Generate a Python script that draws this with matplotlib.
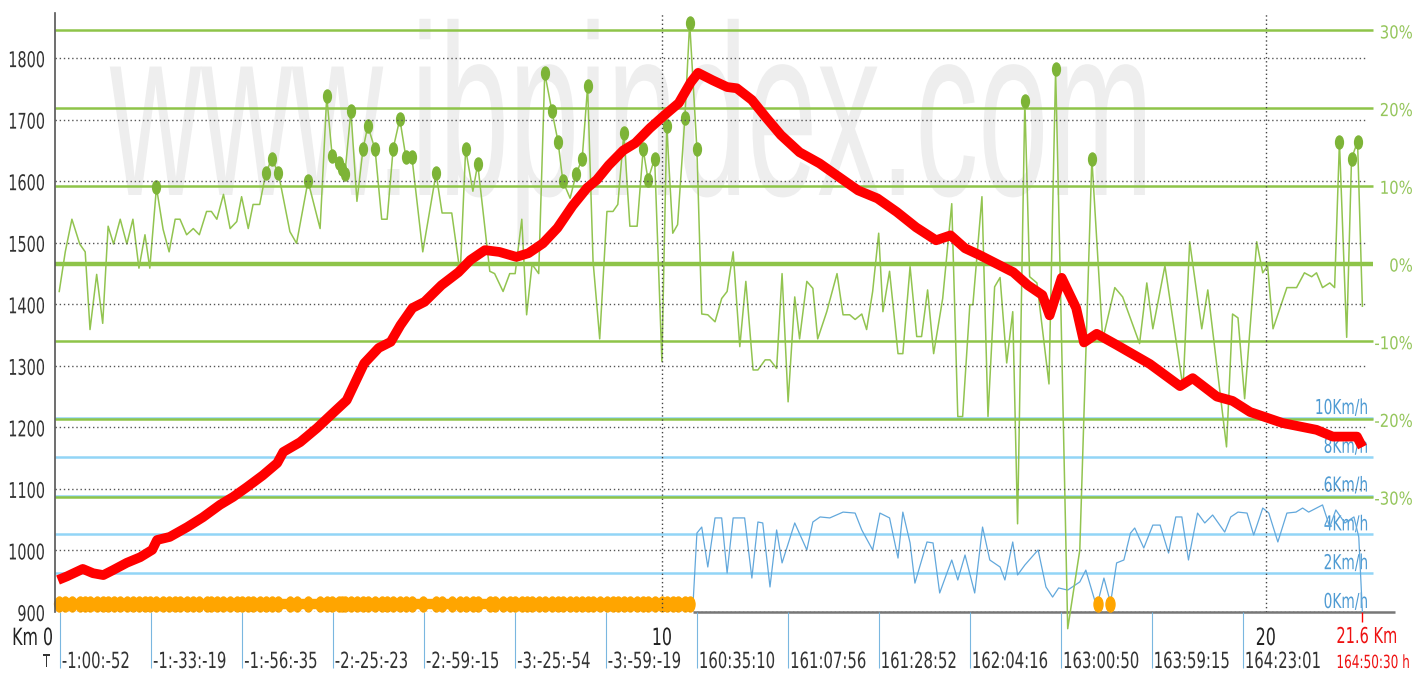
import numpy as np
import matplotlib
matplotlib.use('Agg')
import matplotlib.pyplot as plt
from matplotlib import patheffects
from matplotlib.path import Path
from matplotlib.transforms import Affine2D

# altitude profile: distance (km) / altitude (m)
alt_km = [0.0, 0.15, 0.41, 0.58, 0.75, 0.91, 1.14, 1.36, 1.56, 1.64,
          1.85, 2.14, 2.40, 2.68, 2.90, 3.13, 3.39, 3.63, 3.73, 4.01,
          4.29, 4.55, 4.78, 5.07, 5.31, 5.51, 5.67, 5.87, 6.07, 6.35,
          6.63, 6.83, 7.07, 7.31, 7.59, 7.79, 8.03, 8.27, 8.52, 8.76,
          8.92, 9.12, 9.36, 9.56, 9.80, 10.04, 10.28, 10.48, 10.60, 10.84,
          11.08, 11.24, 11.49, 11.72, 11.97, 12.28, 12.61, 12.93, 13.25, 13.57,
          13.89, 14.21, 14.54, 14.78, 15.02, 15.26, 15.58, 15.82, 16.06, 16.30,
          16.42, 16.62, 16.86, 16.99, 17.20, 17.53, 18.08, 18.58, 18.79, 19.19,
          19.45, 19.74, 20.28, 20.84, 21.11, 21.51, 21.60]
alt_m = [952, 958, 970, 963, 960, 968, 980, 989, 1001, 1017,
         1022, 1038, 1054, 1074, 1087, 1103, 1122, 1142, 1160, 1176,
         1199, 1223, 1244, 1304, 1329, 1339, 1366, 1394, 1404, 1431,
         1452, 1472, 1488, 1485, 1477, 1483, 1499, 1524, 1560, 1589,
         1602, 1626, 1650, 1662, 1686, 1707, 1727, 1761, 1776, 1764,
         1753, 1751, 1732, 1704, 1675, 1647, 1629, 1607, 1585, 1572,
         1550, 1525, 1504, 1512, 1491, 1480, 1464, 1452, 1431, 1415,
         1382, 1443, 1394, 1338, 1352, 1334, 1303, 1267, 1280, 1250,
         1243, 1225, 1207, 1196, 1185, 1185, 1168]

# slope (%)
slope_km = [0.02, 0.12, 0.23, 0.36, 0.45, 0.53, 0.64, 0.74, 0.83, 0.92,
            1.03, 1.14, 1.24, 1.34, 1.44, 1.52, 1.63, 1.74, 1.84, 1.94,
            2.02, 2.13, 2.24, 2.34, 2.46, 2.54, 2.63, 2.74, 2.85, 2.96,
            3.04, 3.15, 3.23, 3.34, 3.44, 3.54, 3.65, 3.84, 3.95, 4.14,
            4.34, 4.45, 4.54, 4.65, 4.70, 4.75, 4.85, 4.95, 5.05, 5.13,
            5.25, 5.36, 5.45, 5.55, 5.66, 5.76, 5.86, 6.04, 6.26, 6.36,
            6.52, 6.66, 6.75, 6.87, 6.95, 7.15, 7.23, 7.37, 7.48, 7.57,
            7.68, 7.76, 7.85, 7.96, 8.06, 8.18, 8.28, 8.36, 8.48, 8.58,
            8.68, 8.77, 8.86, 8.97, 9.09, 9.19, 9.27, 9.37, 9.47, 9.59,
            9.69, 9.77, 9.88, 10.00, 10.08, 10.18, 10.26, 10.38, 10.46, 10.58,
            10.66, 10.76, 10.88, 10.99, 11.08, 11.18, 11.29, 11.39, 11.51, 11.59,
            11.71, 11.79, 11.90, 11.99, 12.09, 12.20, 12.28, 12.40, 12.50, 12.58,
            12.73, 12.90, 13.00, 13.11, 13.20, 13.31, 13.39, 13.49, 13.59, 13.66,
            13.77, 13.91, 13.99, 14.11, 14.22, 14.30, 14.40, 14.50, 14.65, 14.72,
            14.80, 14.90, 14.98, 15.10, 15.15, 15.30, 15.40, 15.51, 15.60, 15.71,
            15.81, 15.89, 16.01, 16.09, 16.21, 16.41, 16.52, 16.59, 16.72, 16.92,
            17.12, 17.30, 17.50, 17.63, 17.91, 18.03, 18.13, 18.33, 18.63, 18.74,
            18.94, 19.04, 19.35, 19.45, 19.54, 19.65, 19.85, 19.95, 20.03, 20.12,
            20.35, 20.51, 20.64, 20.76, 20.84, 20.94, 21.06, 21.14, 21.22, 21.34,
            21.42, 21.52, 21.60]
slope_pct = [-3.6, 1.5, 5.7, 2.5, 1.5, -8.5, -1.4, -7.7, 4.8, 2.5,
             5.7, 2.5, 5.7, -0.6, 3.7, -0.6, 9.8, 4.4, 1.5, 5.7,
             5.7, 3.7, 4.5, 3.7, 6.7, 6.7, 5.7, 8.9, 4.5, 5.4,
             8.6, 4.5, 7.6, 7.6, 11.6, 13.5, 11.6, 4.1, 2.6, 10.6,
             4.5, 21.5, 13.8, 12.9, 12.1, 11.5, 19.6, 8.0, 14.7, 17.7,
             14.7, 5.7, 5.7, 14.8, 18.6, 13.7, 13.7, 1.5, 11.6, 6.5,
             6.5, -1.3, 14.7, 9.3, 12.8, -1.0, -1.3, -3.6, -1.3, -1.3,
             5.7, -6.6, -0.1, -1.3, 24.5, 19.6, 15.7, 10.6, 8.4, 11.5,
             13.5, 22.8, 0.3, -9.7, 6.7, 6.7, 7.6, 16.8, 4.8, 4.8,
             14.7, 10.8, 13.5, -12.6, 17.7, 3.9, 5.0, 18.7, 31.0, 14.7,
             -6.5, -6.6, -7.5, -4.5, -3.6, 1.5, -10.7, -2.3, -13.7, -13.7,
             -12.4, -12.4, -13.5, -1.3, -17.8, -4.3, -9.7, -2.3, -3.2, -9.7,
             -6.2, -1.3, -6.6, -6.6, -7.2, -6.5, -8.5, -3.6, 3.9, -6.2,
             -1.0, -11.6, -11.6, -0.4, -9.4, -9.4, -3.4, -11.6, -4.5, 1.2,
             7.7, -19.7, -19.7, -5.3, -5.3, 8.6, -19.7, -3.0, -1.8, -12.8,
             -6.2, -33.5, 20.9, -1.7, -2.5, -15.5, 25.0, 0.6, -47.0, -36.9,
             13.5, -9.8, -3.1, -4.3, -10.3, -2.5, -8.4, -0.3, -16.0, 2.8,
             -8.4, -3.4, -23.6, -6.5, -7.0, -17.4, 2.8, -1.2, -0.3, -8.4,
             -3.1, -3.1, -1.2, -1.7, -1.2, -3.1, -2.5, -3.1, 15.7, -9.5,
             13.5, 15.7, -5.5]

# speed (km/h)
speed_km = [10.51, 10.58, 10.66, 10.76, 10.88, 10.99, 11.08, 11.18, 11.37, 11.49,
            11.59, 11.67, 11.79, 11.90, 11.99, 12.20, 12.40, 12.50, 12.62, 12.78,
            13.00, 13.20, 13.31, 13.49, 13.61, 13.77, 13.91, 13.99, 14.11, 14.19,
            14.39, 14.49, 14.60, 14.72, 14.80, 14.90, 15.02, 15.18, 15.31, 15.43,
            15.60, 15.68, 15.81, 15.89, 16.01, 16.23, 16.36, 16.47, 16.57, 16.72,
            16.92, 17.02, 17.20, 17.32, 17.43, 17.53, 17.65, 17.76, 17.83, 17.98,
            18.13, 18.25, 18.39, 18.51, 18.61, 18.72, 18.87, 18.99, 19.12, 19.32,
            19.42, 19.54, 19.69, 19.80, 19.95, 20.05, 20.20, 20.35, 20.50, 20.61,
            20.71, 20.94, 21.06, 21.16, 21.31, 21.46, 21.54, 21.60]
speed_kmh = [0.1, 4.07, 4.38, 2.32, 4.85, 4.85, 2.01, 4.85, 4.85, 1.75,
             4.64, 4.59, 1.29, 4.23, 2.53, 4.59, 3.20, 4.64, 4.90, 4.85,
             5.15, 5.10, 4.23, 3.20, 5.10, 4.85, 2.78, 5.15, 3.56, 1.49,
             3.61, 3.56, 0.98, 2.01, 2.68, 1.65, 2.94, 0.98, 4.38, 2.68,
             2.32, 1.65, 3.61, 1.91, 2.42, 3.20, 1.29, 0.77, 1.24, 1.13,
             1.55, 2.16, 0.26, 1.75, 0.46, 2.53, 2.68, 4.07, 4.33, 3.30,
             4.48, 4.48, 3.04, 4.90, 4.90, 2.68, 5.10, 4.59, 5.00, 4.12,
             4.90, 5.15, 5.10, 3.97, 5.36, 5.10, 3.61, 5.10, 5.15, 5.36,
             5.15, 5.52, 4.38, 5.26, 4.59, 4.90, 3.87, 0.0]

# stops (speed 0): whole first part of the track + two later ones
stop_extra_km = [17.22, 17.42]

time_km = [0.03, 1.54, 3.05, 4.55, 6.06, 7.57, 9.07, 10.58, 12.09, 13.59,
           15.10, 16.61, 18.11, 19.62]
time_labels = ['-1:00:-52', '-1:-33:-19', '-1:-56:-35', '-2:-25:-23', '-2:-59:-15',
               '-3:-25:-54', '-3:-59:-19', '160:35:10', '161:07:56', '161:28:52',
               '162:04:16', '163:00:50', '163:59:15', '164:23:01']
total_time = '164:50:30 h'

alt_ticks = [900, 1000, 1100, 1200, 1300, 1400, 1500, 1600, 1700, 1800]
slope_ticks = [30, 20, 10, 0, -10, -20, -30]
speed_ticks = [0, 2, 4, 6, 8, 10]
km_ticks = [10, 20]


class Stretch(patheffects.AbstractPathEffect):
    """stretch glyphs vertically about the baseline (the original is a squeezed bitmap)"""
    def __init__(self, sy):
        super().__init__()
        self.sy = sy

    def draw_path(self, renderer, gc, tpath, affine, rgbFace=None):
        renderer.draw_path(gc, tpath, Affine2D().scale(1, self.sy) + affine, rgbFace)


ST = [Stretch(1.5)]
ell = Path.unit_circle().transformed(Affine2D().scale(0.6, 1.0))

GRID_GREEN = '#8ec449'
BLUE_LINE = '#92d5f7'
BLUE_TXT = '#4f9bd3'
STOP_LEVEL = 0.4

W, H = 1419, 673
fig = plt.figure(figsize=(W / 100, H / 100), dpi=100)
ax_v = fig.add_axes([55 / W, 61 / H, 1340 / W, 599 / H])   # speed (host)
ax_s = ax_v.twinx()                                          # slope
ax_a = ax_v.twinx()                                          # altitude
for a in (ax_v, ax_s, ax_a):
    for sp in a.spines.values():
        sp.set_visible(False)
    a.set_xticks([])
    a.set_yticks([])
ax_a.spines['left'].set_visible(True)
ax_a.spines['left'].set_color('#555555')
ax_a.spines['left'].set_linewidth(1.2)

ax_v.set_xlim(-0.05, 22.14)
ax_v.set_ylim(0, 30.88)
ax_s.set_ylim(-44.85, 32.24)
ax_a.set_ylim(900, 1873.3)

x0 = ax_v.get_xlim()[0]

# watermark
ax_v.text(110 / W, 1 - 195 / H, 'www.ibpindex.com', transform=fig.transFigure,
          fontsize=90.7, family='Liberation Sans', color='#eeeeee',
          ha='left', va='baseline', zorder=0, path_effects=[Stretch(1.93)])

# speed grid + labels
ax_v.hlines(speed_ticks[1:], x0, 21.77, colors=BLUE_LINE, lw=1.8, zorder=1)
for v in speed_ticks:
    ax_v.annotate(f'{v}Km/h', xy=(1, v), xycoords=ax_v.get_yaxis_transform(),
                  xytext=(-27, 4), textcoords='offset pixels', ha='right', va='baseline',
                  fontsize=9.9, color=BLUE_TXT, path_effects=ST)

# speed line, stops and bottom line
ax_v.hlines(0, speed_km[0], ax_v.get_xlim()[1], colors='#777777', lw=1.8,
            clip_on=False, zorder=2)
ax_v.plot(speed_km, speed_kmh, color='#62a8dc', lw=0.9, zorder=3)
stop_km = [k for k in slope_km if k <= speed_km[0]]
ax_v.plot([stop_km[0], stop_km[-1]], [STOP_LEVEL, STOP_LEVEL], color='#ffa500',
          lw=7.5, solid_capstyle='round', clip_on=False, zorder=4)
stop_km = stop_km + stop_extra_km
ax_v.plot(stop_km, [STOP_LEVEL] * len(stop_km), ls='none', marker=ell, ms=10.8,
          color='#ffa500', clip_on=False, zorder=4)

# time ticks below the axis
ax_v.vlines(time_km, -56 / 599, 0, transform=ax_v.get_xaxis_transform(),
            colors='#7ab7e0', lw=0.8, clip_on=False)
for k, lab in zip(time_km, time_labels):
    ax_v.annotate(lab, xy=(k, 0), xycoords=ax_v.get_xaxis_transform(),
                  xytext=(2, -56), textcoords='offset pixels', ha='left', va='baseline',
                  fontsize=10.7, color='#333333', path_effects=ST)
ax_v.annotate('T', xy=(0, 0), xycoords='axes fraction', xytext=(-12, -55),
              textcoords='offset pixels', ha='left', va='baseline',
              fontsize=8.3, color='#333333', path_effects=ST)
ax_v.annotate('Km 0', xy=(0, 0), xycoords='axes fraction', xytext=(-2, -33),
              textcoords='offset pixels', ha='right', va='baseline',
              fontsize=11.4, color='#222222', path_effects=ST)
for k in km_ticks:
    ax_v.annotate(str(k), xy=(k, 0), xycoords=ax_v.get_xaxis_transform(),
                  xytext=(0, -33), textcoords='offset pixels', ha='center', va='baseline',
                  fontsize=11.4, color='#222222', path_effects=ST)
end_km = alt_km[-1]
ax_v.vlines(end_km, -10 / 599, 0, transform=ax_v.get_xaxis_transform(),
            colors='red', lw=1, clip_on=False)
ax_v.annotate(f'{end_km} Km', xy=(end_km, 0), xycoords=ax_v.get_xaxis_transform(),
              xytext=(-26, -31), textcoords='offset pixels', ha='left', va='baseline',
              fontsize=10.5, color='#ee1111', path_effects=ST)
ax_v.annotate(total_time, xy=(end_km, 0), xycoords=ax_v.get_xaxis_transform(),
              xytext=(-26, -56), textcoords='offset pixels', ha='left', va='baseline',
              fontsize=8.7, color='#ee1111', path_effects=ST)

# slope grid, line and markers
for p in slope_ticks:
    ax_s.hlines(p, x0, 21.77, colors=GRID_GREEN, lw=3.2 if p == 0 else 1.8, zorder=1)
    ax_s.annotate(f'{p}%', xy=(1, p), xycoords=ax_s.get_yaxis_transform(),
                  xytext=(18, -8), textcoords='offset pixels', ha='right', va='baseline',
                  fontsize=10.7, color='#95c65c', path_effects=[Stretch(1.2)])
ax_s.plot(slope_km, slope_pct, color='#92c450', lw=1.1, clip_on=False, zorder=3)
sk = np.array(slope_km)
sp_ = np.array(slope_pct)
steep = sp_ >= 9.5
ax_s.plot(sk[steep], sp_[steep], ls='none', marker=ell, ms=9.4, color='#7db437', zorder=4)

# altitude grid, km lines, profile
ax_a.hlines(alt_ticks, x0, 21.64, colors='#555555', linestyles=(0, (1, 2)), lw=1.0, zorder=1)
for k in km_ticks:
    ax_a.axvline(k, color='#444444', ls=(0, (1, 2)), lw=1.0, zorder=1)
for v in alt_ticks:
    ax_a.annotate(str(v), xy=(0, v), xycoords=ax_a.get_yaxis_transform(),
                  xytext=(-10, -9), textcoords='offset pixels', ha='right', va='baseline',
                  fontsize=10.4, color='#333333', path_effects=ST)
ax_a.plot(alt_km, alt_m, color='#ff0000', lw=7, solid_joinstyle='round',
          solid_capstyle='butt', zorder=5)

fig.savefig('out.png', dpi=100, facecolor='white')
